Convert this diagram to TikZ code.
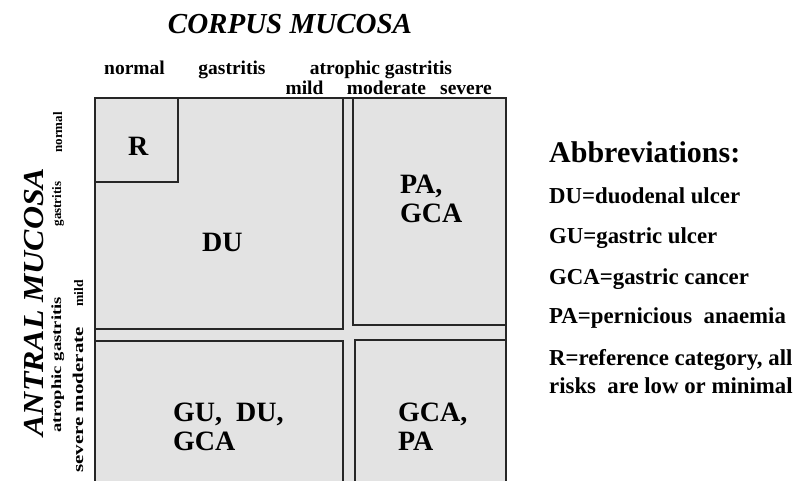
\documentclass[tikz,border=0pt]{standalone}
\usepackage{fontspec}
\setmainfont{Liberation Serif}
\tikzset{
  cellline/.style={draw=black!85, line width=1.4pt},
  cellfill/.style={fill=black!11},
  toplab/.style={font=\bfseries\fontsize{19.5}{22}\selectfont, anchor=base, inner sep=0pt},
  sidelab/.style={font=\bfseries\fontsize{12}{14}\selectfont, anchor=base, rotate=90, inner sep=0pt},
  axistitle/.style={font=\bfseries\itshape\fontsize{29}{32}\selectfont, anchor=base, inner sep=0pt},
  risk/.style={font=\bfseries\fontsize{28}{29}\selectfont, align=left, anchor=base west, inner sep=0pt},
  abbr/.style={font=\bfseries\fontsize{22.8}{28}\selectfont, anchor=base west, inner sep=0pt}
}
\begin{document}
\begin{tikzpicture}[x=1pt,y=-1pt]
\clip (0,0) rectangle (801,480);
\fill[white] (0,0) rectangle (801,480);

\begin{scope}[cellline]
    % whole field
    \draw[cellfill] (95,98) rectangle (506,490);
    % four fields and the reference corner
    \draw (95,98) rectangle (343,329);
    \draw (95,98) rectangle (178,182);
    \draw (353,98) rectangle (506,325);
    \draw (95,341) rectangle (343,490);
    \draw (355,340) rectangle (506,490);
\end{scope}

% corpus axis
\node[axistitle] (corpus) at (290,33) {CORPUS MUCOSA};
\node[toplab] (cnorm) at (134.5,74) {normal};
\node[toplab] (cgas) at (232,74) {gastritis};
\node[toplab] (catro) at (381,74) {atrophic gastritis};
\node[toplab] (cmild) at (304.5,94) {mild};
\node[toplab] (cmod) at (386.5,94) {moderate};
\node[toplab] (csev) at (466,94) {severe};

% antral axis
\node[axistitle, rotate=90, xscale=1.1] (antral) at (43,302) {ANTRAL MUCOSA};
\node[sidelab, font=\bfseries\fontsize{13}{15}\selectfont] (anorm) at (62,132.5) {normal};
\node[sidelab, font=\bfseries\fontsize{13}{15}\selectfont] (agas) at (61,204) {gastritis};
\node[sidelab, font=\bfseries\fontsize{14}{16}\selectfont, xscale=1.33] (aatro) at (61,365) {atrophic gastritis};
\node[sidelab, font=\bfseries\fontsize{13}{15}\selectfont, xscale=1.05] (amild) at (83,293.5) {mild};
\node[sidelab, font=\bfseries\fontsize{15}{17}\selectfont, xscale=1.4] (asev) at (83,400) {severe moderate};

% risks in the fields
\node[risk] (R) at (128,155) {R};
\node[risk] (DU) at (202,251) {DU};
\node[risk] (PAGCA) at (400,222) {PA,\\GCA};
\node[risk] (GUDU) at (173,450) {GU,\ \ DU,\\GCA};
\node[risk] (GCAPA) at (398,450) {GCA,\\PA};

% abbreviations
\node[abbr, font=\bfseries\fontsize{30}{32}\selectfont] (abbrev) at (549,162) {Abbreviations:};
\node[abbr] (aDU) at (549,203) {DU=duodenal ulcer};
\node[abbr] (aGU) at (549,243) {GU=gastric ulcer};
\node[abbr] (aGCA) at (549,284) {GCA=gastric cancer};
\node[abbr] (aPA) at (549,323) {PA=pernicious\ \ anaemia};
\node[abbr] (aR) at (549,365) {R=reference category, all};
\node[abbr] (aRisk) at (549,393) {risks\ \ are low or minimal};
\end{tikzpicture}
\end{document}
